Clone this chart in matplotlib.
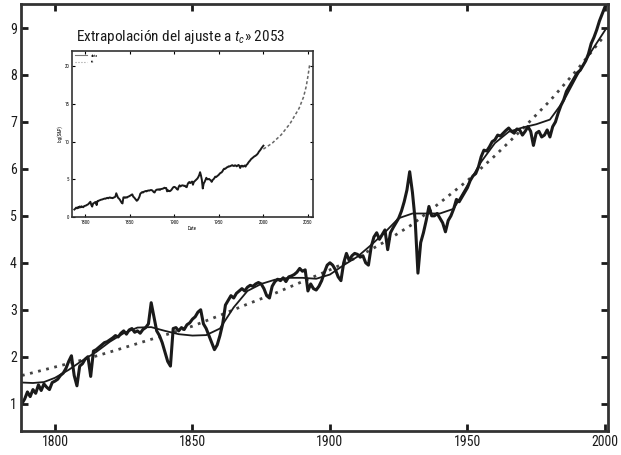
import matplotlib

matplotlib.use("Agg")
import matplotlib.pyplot as plt  # noqa: E402
import numpy as np  # noqa: E402

plt.rcParams["font.family"] = ["Roboto Condensed", "DejaVu Sans"]
plt.rcParams["mathtext.fontset"] = "custom"
plt.rcParams["mathtext.it"] = "Roboto Condensed:italic"
plt.rcParams["mathtext.rm"] = "Roboto Condensed"

# ---------------------------------------------------------------------------
# data (log of index, yearly)
# ---------------------------------------------------------------------------
years = np.arange(1788, 2001)
series = [
    1.00, 1.10, 1.25, 1.15, 1.30, 1.22, 1.40, 1.28, 1.42, 1.35, 1.30, 1.45,
    1.48, 1.52, 1.60, 1.65, 1.75, 1.90, 2.02, 1.60, 1.38, 1.80, 1.85, 1.95,
    2.00, 1.58, 2.12, 2.15, 2.20, 2.25, 2.30, 2.32, 2.36, 2.40, 2.45, 2.42,
    2.50, 2.55, 2.48, 2.57, 2.60, 2.52, 2.55, 2.50, 2.58, 2.62, 2.70, 3.15,
    2.85, 2.55, 2.45, 2.30, 2.10, 1.90, 1.80, 2.60, 2.62, 2.55, 2.62, 2.58,
    2.68, 2.72, 2.80, 2.85, 2.95, 3.00, 2.70, 2.60, 2.45, 2.30, 2.15, 2.25,
    2.45, 2.70, 3.10, 3.20, 3.30, 3.25, 3.35, 3.40, 3.45, 3.40, 3.48, 3.52,
    3.50, 3.55, 3.58, 3.55, 3.45, 3.30, 3.25, 3.50, 3.60, 3.65, 3.62, 3.68,
    3.60, 3.70, 3.72, 3.75, 3.80, 3.88, 3.82, 3.85, 3.40, 3.55, 3.45, 3.42,
    3.50, 3.62, 3.80, 3.95, 4.00, 3.95, 3.85, 3.70, 3.62, 4.00, 4.20, 4.05,
    4.15, 4.20, 4.18, 4.12, 4.15, 4.00, 3.95, 4.34, 4.55, 4.64, 4.50, 4.60,
    4.70, 4.28, 4.64, 4.75, 4.85, 4.95, 5.10, 5.30, 5.55, 5.94, 5.50, 4.90,
    3.78, 4.43, 4.64, 4.90, 5.20, 5.00, 5.00, 5.05, 4.95, 4.85, 4.66, 4.90,
    5.00, 5.15, 5.35, 5.30, 5.40, 5.50, 5.60, 5.75, 5.85, 5.90, 6.04, 6.26,
    6.40, 6.38, 6.47, 6.58, 6.62, 6.72, 6.70, 6.76, 6.82, 6.87, 6.80, 6.76,
    6.85, 6.83, 6.72, 6.80, 6.90, 6.80, 6.50, 6.76, 6.80, 6.68, 6.72, 6.83,
    6.68, 6.90, 7.00, 7.19, 7.35, 7.47, 7.65, 7.75, 7.85, 7.95, 8.05, 8.10,
    8.20, 8.30, 8.45, 8.67, 8.80, 8.96, 9.15, 9.30, 9.45,
]

# log-periodic fit (solid)
fit_years = [1788, 1792, 1796, 1800, 1805, 1810, 1815, 1820, 1825, 1830,
             1835, 1840, 1845, 1850, 1855, 1860, 1865, 1870, 1875, 1880,
             1885, 1890, 1895, 1900, 1905, 1910, 1915, 1920, 1925, 1930,
             1935, 1940, 1945, 1950, 1955, 1960, 1965, 1970, 1975, 1980,
             1985, 1990, 1995, 2000]
fit_vals = [1.45, 1.44, 1.46, 1.55, 1.72, 1.92, 2.10, 2.32, 2.50, 2.62,
            2.63, 2.55, 2.48, 2.45, 2.46, 2.60, 3.05, 3.40, 3.55, 3.64,
            3.68, 3.68, 3.66, 3.75, 3.95, 4.13, 4.38, 4.65, 4.95, 5.05,
            5.05, 5.05, 5.15, 5.65, 6.15, 6.55, 6.79, 6.88, 6.95, 7.05,
            7.45, 8.00, 8.50, 8.95]

# power-law fit (dotted)
pow_years = [1788, 1800, 1810, 1820, 1830, 1840, 1850, 1860, 1870, 1880,
             1890, 1900, 1910, 1920, 1930, 1940, 1950, 1960, 1970, 1980,
             1990, 2000]
pow_vals = [1.60, 1.78, 1.93, 2.10, 2.28, 2.46, 2.65, 2.88, 3.12, 3.35,
            3.60, 3.85, 4.12, 4.45, 4.82, 5.28, 5.75, 6.28, 6.85, 7.45,
            8.12, 8.85]

# inset: extrapolation of the fit up to t_c ~ 2053
ext_years = [2000, 2010, 2020, 2030, 2040, 2045, 2048, 2050, 2052]
ext_vals = [9.0, 9.8, 10.9, 12.4, 14.4, 15.9, 17.3, 18.7, 20.3]

main_xticks = [1800, 1850, 1900, 1950, 2000]
main_yticks = [1, 2, 3, 4, 5, 6, 7, 8, 9]
inset_xticks = [1800, 1850, 1900, 1950, 2000, 2050]
inset_yticks = [0, 5, 10, 15, 20]

INK = "#1a1a1a"

fig = plt.figure(figsize=(6.21, 4.55), dpi=100)
ax = fig.add_axes([0.034, 0.053, 0.945, 0.938])

ax.plot(pow_years, pow_vals, ls=(0, (1, 2)), color="#444444", lw=2.0)
ax.plot(fit_years, fit_vals, color=INK, lw=1.3)
ax.plot(years, series, color=INK, lw=2.2)

ax.set_xlim(1787.7, 2001.1)
ax.set_ylim(0.42, 9.51)
ax.set_xticks(main_xticks)
ax.set_yticks(main_yticks)
ax.tick_params(direction="in", length=5, width=2, top=True, right=True,
               labelsize=10, colors=INK, pad=3)
for s in ax.spines.values():
    s.set_linewidth(2)
    s.set_color("#333333")

# ---------------------------------------------------------------------------
# inset
# ---------------------------------------------------------------------------
ins = fig.add_axes([0.116, 0.523, 0.388, 0.365])
ins.plot(years, series, color=INK, lw=1.4)
ins.plot(ext_years, ext_vals, ls=(0, (2, 1.5)), color="#666666", lw=1.1)
ins.set_xlim(1785.4, 2055.6)
ins.set_ylim(0, 22)
ins.set_xticks(inset_xticks)
ins.set_yticks(inset_yticks)
ins.tick_params(direction="in", length=2, width=0.8, top=True, right=True,
                labelsize=3.5, pad=2)
ins.set_xlabel("Date", fontsize=3.5, labelpad=1)
ins.set_ylabel("log(S&P)", fontsize=3.5, labelpad=1)
for s in ins.spines.values():
    s.set_linewidth(1.2)
    s.set_color("#333333")
ins.plot([], [], color="#777777", lw=0.8, label="data")
ins.plot([], [], color="#999999", lw=0.8, ls=":", label="fit")
ins.legend(loc="upper left", fontsize=3, frameon=False,
           handlelength=3, borderaxespad=0.3)

fig.text(0.122, 0.918, r"Extrapolación del ajuste a $t_c$» 2053",
         fontsize=11, va="center", ha="left", color=INK)

fig.savefig("out.png", dpi=100)
